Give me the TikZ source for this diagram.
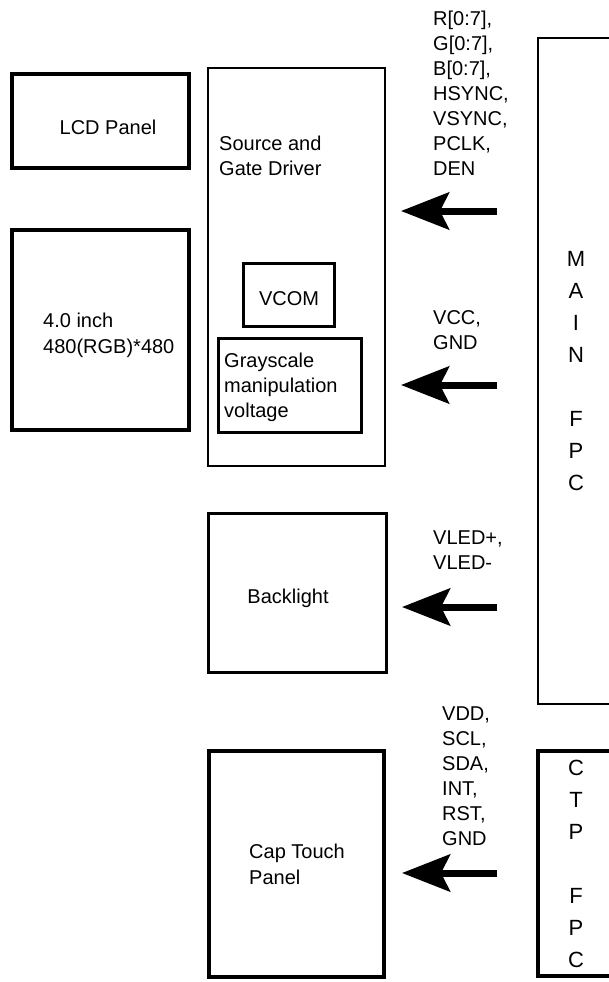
\documentclass[tikz,border=0pt]{standalone}
\usepackage{fontspec}
\setmainfont{Liberation Sans}
\usetikzlibrary{arrows.meta}

\begin{document}
\begin{tikzpicture}[x=1pt, y=-1pt,
  blk/.style={draw, line width=3pt, inner sep=0pt, outer sep=0pt},
  txt/.style={inner sep=0pt, font=\fontsize{20}{25}\selectfont},
  lefttxt/.style={txt, align=left, anchor=north west},
  fpctxt/.style={align=center, font=\fontsize{22}{32}\selectfont},
  sig/.style={line width=7pt, shorten <=41pt,
    -{Stealth[length=48pt, width=37pt, inset=9pt]}}]
\useasboundingbox (0,0) rectangle (608,982);

% panel side
\node[blk, line width=4pt, minimum width=177pt, minimum height=94pt] (lcd) at (100.5,121) {};
\node[txt, anchor=base] (lcdtxt) at (108,134) {LCD Panel};
\node[blk, line width=4pt, minimum width=177pt, minimum height=200pt] (glass) at (100.5,330) {};
\node[lefttxt] (glasstxt) at (43,313) {4.0 inch\\[1pt]480(RGB)*480};

% driver
\node[blk, line width=2.7pt, minimum width=177pt, minimum height=398pt] (drv) at (296.5,267) {};
\node[lefttxt] (drvtxt) at (219,136) {Source and\\Gate Driver};
\node[blk, minimum width=91pt, minimum height=63pt] (vcom) at (288.5,294.5) {};
\node[txt, anchor=base] (vcomtxt) at (289,305) {VCOM};
\node[blk, minimum width=143pt, minimum height=94pt] (gray) at (289.5,385) {};
\node[lefttxt] (graytxt) at (224,353) {Grayscale\\manipulation\\voltage};

\node[blk, minimum width=178pt, minimum height=159pt] (bl) at (297,592.5) {};
\node[txt, anchor=base] (bltxt) at (288,603) {Backlight};
\node[blk, line width=4pt, minimum width=175pt, minimum height=226pt] (ctp) at (296.5,864) {};
\node[lefttxt] (ctptxt) at (249,844) {Cap Touch\\[1pt]Panel};

% connectors
\node[blk, line width=2.5pt, minimum width=76pt, minimum height=666pt, fpctxt] (mainfpc)
  at (576,371) {M\\A\\I\\N\\[32pt]F\\P\\C};
\node[blk, line width=4pt, minimum width=76pt, minimum height=225pt, fpctxt] (ctpfpc)
  at (576,863.5) {C\\T\\P\\[32pt]F\\P\\C};

% signals
\node[lefttxt] (rgbsig) at (433,11) {R[0:7],\\G[0:7],\\B[0:7],\\HSYNC,\\VSYNC,\\PCLK,\\DEN};
\node[lefttxt] (pwrsig) at (433,310) {VCC,\\GND};
\node[lefttxt] (ledsig) at (433,531) {VLED+,\\VLED-};
\node[lefttxt] (tpsig) at (442,707) {VDD,\\SCL,\\SDA,\\INT,\\RST,\\GND};

\draw[sig, shorten >=16pt] (mainfpc.west |- 0,211) -- (drv.east |- 0,211);
\draw[sig, shorten >=16pt] (mainfpc.west |- 0,385) -- (drv.east |- 0,385);
\draw[sig, shorten >=16pt] (mainfpc.west |- 0,607) -- (bl.east |- 0,607);
\draw[sig, shorten >=18pt] (ctpfpc.west |- 0,873) -- (ctp.east |- 0,873);
\end{tikzpicture}
\end{document}
